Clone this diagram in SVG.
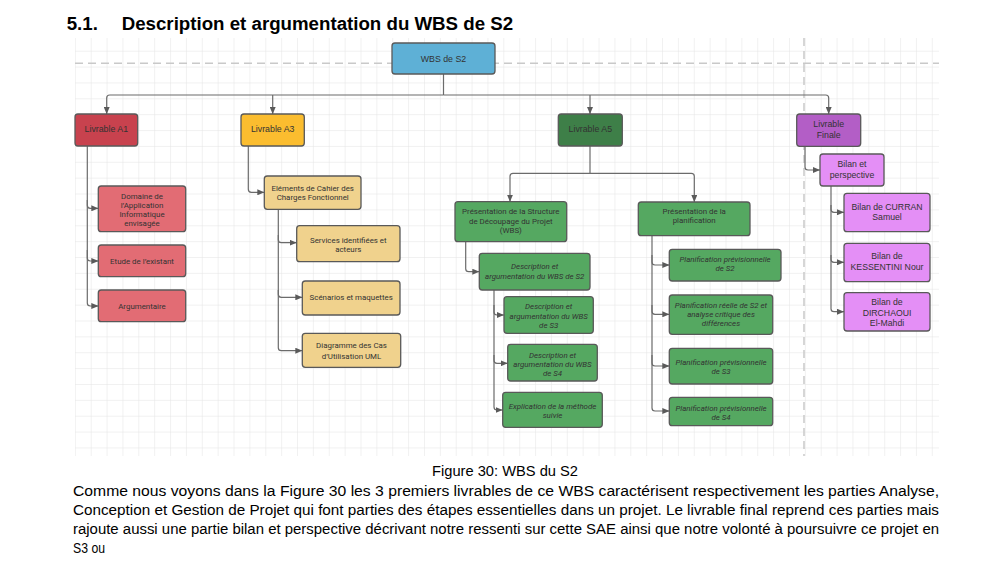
<svg xmlns="http://www.w3.org/2000/svg" width="1006" height="564" viewBox="0 0 1006 564">
<style>
.bx{stroke:#595959;stroke-width:1.3}
.cn{fill:none;stroke:#6b6b6b;stroke-width:1.2}
.lv{font-family:"Liberation Sans",Arial,sans-serif;font-size:8.8px;fill:#333;text-anchor:middle;dominant-baseline:central}
.t{font-family:Roboto,"Liberation Sans",sans-serif;font-size:7.9px;fill:#333;text-anchor:middle;dominant-baseline:central}
.ti{font-family:Roboto,"Liberation Sans",sans-serif;font-size:7.9px;font-style:italic;fill:#333;text-anchor:middle;dominant-baseline:central}
.tp{font-family:"Liberation Sans",Arial,sans-serif;font-size:8.7px;fill:#333;text-anchor:middle;dominant-baseline:central}
.body{font-family:"Liberation Sans",Arial,sans-serif;font-size:15.5px;fill:#000}
.dash{stroke:#c9c9c9;stroke-width:1.5;stroke-dasharray:8 5;fill:none}
</style>
<defs>
<pattern id="grid" patternUnits="userSpaceOnUse" x="90.7" y="50.7" width="15.87" height="15.87">
<path d="M0 0H15.87M0 0V15.87" stroke="#e4e4e4" stroke-width="1" fill="none"/>
</pattern>
<marker id="ar" markerUnits="userSpaceOnUse" markerWidth="7" markerHeight="6" refX="7" refY="3" orient="auto">
<path d="M0 0L7 3L0 6z" fill="#5a5a5a"/>
</marker>
</defs>
<rect width="1006" height="564" fill="#fff"/>
<text x="66.7" y="30" font-family="Liberation Sans,Arial,sans-serif" font-size="18.7" font-weight="bold" fill="#000">5.1.</text>
<text x="121.7" y="30" font-family="Liberation Sans,Arial,sans-serif" font-size="18.7" font-weight="bold" fill="#000">Description et argumentation du WBS de S2</text>
<g id="grid-bg">
<rect x="75" y="38" width="864" height="418" fill="url(#grid)"/>
<path class="dash" d="M75 63.3H939"/>
<path class="dash" d="M804 38V456"/>
</g>
<g id="connectors">
<path class="cn" d="M443.5 74V95"/>
<path class="cn" d="M443.5 95H109.7Q106.7 95 106.7 98V114" marker-end="url(#ar)"/>
<path class="cn" d="M272.7 95V114" marker-end="url(#ar)"/>
<path class="cn" d="M443.5 95H825.7Q828.7 95 828.7 98V114" marker-end="url(#ar)"/>
<path class="cn" d="M590 95V114" marker-end="url(#ar)"/>
<path class="cn" d="M87.3 146V205.3Q87.3 208.3 90.3 208.3H98.3" marker-end="url(#ar)"/>
<path class="cn" d="M87.3 200V258Q87.3 261 90.3 261H98.3" marker-end="url(#ar)"/>
<path class="cn" d="M87.3 250V303Q87.3 306 90.3 306H98.3" marker-end="url(#ar)"/>
<path class="cn" d="M248.3 146V189.3Q248.3 192.3 251.3 192.3H264.3" marker-end="url(#ar)"/>
<path class="cn" d="M278.3 209.3V239.7Q278.3 242.7 281.3 242.7H296.7" marker-end="url(#ar)"/>
<path class="cn" d="M278.3 235V294.3Q278.3 297.3 281.3 297.3H302.3" marker-end="url(#ar)"/>
<path class="cn" d="M278.3 290V347.7Q278.3 350.7 281.3 350.7H302.3" marker-end="url(#ar)"/>
<path class="cn" d="M590 146V173.3"/>
<path class="cn" d="M590 173.3H513Q510 173.3 510 176.3V201.7" marker-end="url(#ar)"/>
<path class="cn" d="M590 173.3H691.3Q694.3 173.3 694.3 176.3V202" marker-end="url(#ar)"/>
<path class="cn" d="M465.7 241.7V268.7Q465.7 271.7 468.7 271.7H479.3" marker-end="url(#ar)"/>
<path class="cn" d="M494 290V312Q494 315 497 315H504" marker-end="url(#ar)"/>
<path class="cn" d="M494 305V360.3Q494 363.3 497 363.3H507.7" marker-end="url(#ar)"/>
<path class="cn" d="M494 355V407Q494 410 497 410H502.7" marker-end="url(#ar)"/>
<path class="cn" d="M652 235.7V262Q652 265 655 265H669.3" marker-end="url(#ar)"/>
<path class="cn" d="M652 255V311.3Q652 314.3 655 314.3H669.3" marker-end="url(#ar)"/>
<path class="cn" d="M652 305V363Q652 366 655 366H669.3" marker-end="url(#ar)"/>
<path class="cn" d="M652 355V408Q652 411 655 411H669.3" marker-end="url(#ar)"/>
<path class="cn" d="M805 146.3V167Q805 170 808 170H820" marker-end="url(#ar)"/>
<path class="cn" d="M831 186V209.3Q831 212.3 834 212.3H844" marker-end="url(#ar)"/>
<path class="cn" d="M831 205V259.3Q831 262.3 834 262.3H844" marker-end="url(#ar)"/>
<path class="cn" d="M831 255V308.7Q831 311.7 834 311.7H844" marker-end="url(#ar)"/>
</g>
<g id="n-wbs"><rect class="bx" x="392" y="43" width="103" height="31" rx="3" fill="#5eb0d6"/><text class="lv" x="443.5" y="58.5">WBS de S2</text></g>
<g id="n-a1"><rect class="bx" x="75" y="114" width="62.7" height="32" rx="3" fill="#c8424e"/><text class="lv" x="106.3" y="129">Livrable A1</text></g>
<g id="n-a3"><rect class="bx" x="241" y="114" width="63.3" height="32" rx="3" fill="#fbbd2f"/><text class="lv" x="272.7" y="129">Livrable A3</text></g>
<g id="n-a5"><rect class="bx" x="558.3" y="114" width="64" height="32" rx="3" fill="#3e7f48"/><text class="lv" x="590.3" y="129">Livrable A5</text></g>
<g id="n-fin"><rect class="bx" x="796.7" y="114" width="64" height="32.3" rx="3" fill="#b35ec6"/><text class="lv" x="828.7" y="124.3">Livrable</text><text class="lv" x="828.7" y="135.3">Finale</text></g>
<g id="n-domaine"><rect class="bx" x="98.3" y="186" width="87.4" height="45.7" rx="3" fill="#e26c74"/><text class="t" x="142" y="196">Domaine de</text><text class="t" x="142" y="205.3">l’Application</text><text class="t" x="142" y="214.3">Informatique</text><text class="t" x="142" y="223.3">envisagée</text></g>
<g id="n-etude"><rect class="bx" x="98.3" y="245" width="87.4" height="31.7" rx="3" fill="#e26c74"/><text class="t" x="142" y="261">Etude de l’existant</text></g>
<g id="n-argu"><rect class="bx" x="98.3" y="290" width="87.4" height="31.7" rx="3" fill="#e26c74"/><text class="t" x="142" y="306.3">Argumentaire</text></g>
<g id="n-elem"><rect class="bx" x="264.3" y="176" width="96.7" height="33.3" rx="3" fill="#f0d28d"/><text class="t" x="312.7" y="188.3">Eléments de Cahier des</text><text class="t" x="312.7" y="197.7">Charges Fonctionnel</text></g>
<g id="n-serv"><rect class="bx" x="296.7" y="225.7" width="103.3" height="36" rx="3" fill="#f0d28d"/><text class="t" x="348.3" y="240">Services identifiées et</text><text class="t" x="348.3" y="249">acteurs</text></g>
<g id="n-scen"><rect class="bx" x="302.3" y="281" width="97.7" height="34" rx="3" fill="#f0d28d"/><text class="t" x="351.2" y="297.7">Scénarios et maquettes</text></g>
<g id="n-diag"><rect class="bx" x="302.3" y="333.3" width="98.4" height="34" rx="3" fill="#f0d28d"/><text class="t" x="351.5" y="345.3">Diagramme des Cas</text><text class="t" x="351.5" y="356">d’Utilisation UML</text></g>
<g id="n-pstruct"><rect class="bx" x="455" y="201.7" width="111.7" height="40" rx="3" fill="#55a861"/><text class="t" x="510.8" y="211.7">Présentation de la Structure</text><text class="t" x="510.8" y="221">de Découpage du Projet</text><text class="t" x="510.8" y="230.7">(WBS)</text></g>
<g id="n-pplan"><rect class="bx" x="638.3" y="202" width="111.7" height="33.7" rx="3" fill="#55a861"/><text class="t" x="694.2" y="211.7">Présentation de la</text><text class="t" x="694.2" y="220.7">planification</text></g>
<g id="n-ds2"><rect class="bx" x="479.3" y="253.3" width="110.7" height="36.7" rx="3" fill="#55a861"/><text class="ti" x="534.7" y="266">Description et</text><text class="ti" x="534.7" y="276">argumentation du WBS de S2</text></g>
<g id="n-ds3"><rect class="bx" x="504" y="296.7" width="89.3" height="36.6" rx="3" fill="#55a861"/><text class="ti" x="548.7" y="306.7">Description et</text><text class="ti" x="548.7" y="316">argumentation du WBS</text><text class="ti" x="548.7" y="325">de S3</text></g>
<g id="n-ds4"><rect class="bx" x="507.7" y="344.3" width="89.6" height="36.7" rx="3" fill="#55a861"/><text class="ti" x="552.5" y="355">Description et</text><text class="ti" x="552.5" y="364.3">argumentation du WBS</text><text class="ti" x="552.5" y="373.3">de S4</text></g>
<g id="n-expl"><rect class="bx" x="502.7" y="392.3" width="99.6" height="35" rx="3" fill="#55a861"/><text class="ti" x="552.5" y="406.7">Explication de la méthode</text><text class="ti" x="552.5" y="415.7">suivie</text></g>
<g id="n-ps2"><rect class="bx" x="669.3" y="249.3" width="111.7" height="31.7" rx="3" fill="#55a861"/><text class="ti" x="725" y="259.3">Planification prévisionnelle</text><text class="ti" x="725" y="268.7">de S2</text></g>
<g id="n-preel"><rect class="bx" x="669.3" y="295" width="103.4" height="39.3" rx="3" fill="#55a861"/><text class="ti" x="721" y="305">Planification réelle de S2 et</text><text class="ti" x="721" y="314.3">analyse critique des</text><text class="ti" x="721" y="323.3">différences</text></g>
<g id="n-ps3"><rect class="bx" x="669.3" y="348.3" width="103.4" height="35.7" rx="3" fill="#55a861"/><text class="ti" x="721" y="362.3">Planification prévisionnelle</text><text class="ti" x="721" y="371.7">de S3</text></g>
<g id="n-ps4"><rect class="bx" x="669.3" y="397.3" width="103.4" height="28.4" rx="3" fill="#55a861"/><text class="ti" x="721" y="408.3">Planification prévisionnelle</text><text class="ti" x="721" y="417.3">de S4</text></g>
<g id="n-bilan"><rect class="bx" x="820" y="154" width="64" height="32" rx="3" fill="#e48ff6"/><text class="tp" x="852" y="164.3">Bilan et</text><text class="tp" x="852" y="175">perspective</text></g>
<g id="n-curran"><rect class="bx" x="844" y="193.3" width="86" height="38.4" rx="3" fill="#e48ff6"/><text class="tp" x="887" y="206.7">Bilan de CURRAN</text><text class="tp" x="887" y="217.3">Samuel</text></g>
<g id="n-kess"><rect class="bx" x="844" y="243.3" width="86" height="38.4" rx="3" fill="#e48ff6"/><text class="tp" x="887" y="256">Bilan de</text><text class="tp" x="887" y="266.7">KESSENTINI Nour</text></g>
<g id="n-dirch"><rect class="bx" x="844" y="292.7" width="86" height="38.3" rx="3" fill="#e48ff6"/><text class="tp" x="887" y="302.3">Bilan de</text><text class="tp" x="887" y="312.7">DIRCHAOUI</text><text class="tp" x="887" y="322.7">El-Mahdi</text></g>
<text class="body" x="505" y="475.5" text-anchor="middle" textLength="146" lengthAdjust="spacingAndGlyphs">Figure 30: WBS du S2</text>
<text class="body" x="73" y="495.5" textLength="866" lengthAdjust="spacingAndGlyphs">Comme nous voyons dans la Figure 30 les 3 premiers livrables de ce WBS caractérisent respectivement les parties Analyse,</text>
<text class="body" x="73" y="514.5" textLength="866" lengthAdjust="spacingAndGlyphs">Conception et Gestion de Projet qui font parties des étapes essentielles dans un projet. Le livrable final reprend ces parties mais</text>
<text class="body" x="73" y="534" textLength="866" lengthAdjust="spacingAndGlyphs">rajoute aussi une partie bilan et perspective décrivant notre ressenti sur cette SAE ainsi que notre volonté à poursuivre ce projet en</text>
<text class="body" x="73" y="553" textLength="32" lengthAdjust="spacingAndGlyphs">S3 ou</text>
</svg>
